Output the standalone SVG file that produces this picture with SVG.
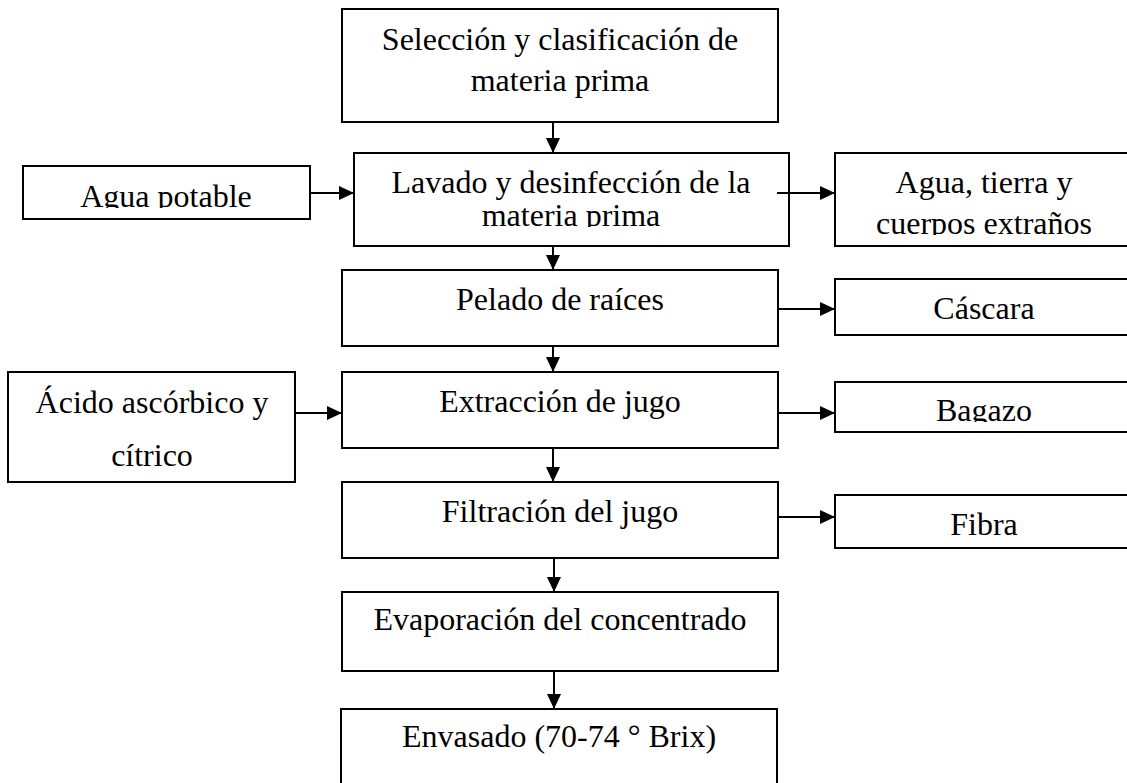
<svg xmlns="http://www.w3.org/2000/svg" width="1127" height="783" viewBox="0 0 1127 783">
<style>
.box{fill:#fff;stroke:#000;stroke-width:2}
.t{font-family:"Liberation Serif","Times New Roman",serif;font-size:32px;fill:#000;text-anchor:middle}
.c{stroke:#000;stroke-width:2;fill:none;marker-end:url(#ah)}
</style>
<defs>
<marker id="ah" markerUnits="userSpaceOnUse" markerWidth="16" markerHeight="15" refX="15" refY="7" orient="auto">
<path d="M0,0 L15,7 L0,14 z" fill="#000"/>
</marker>
<clipPath id="cLav"><rect x="354" y="153" width="435" height="74"/></clipPath>
<clipPath id="cAgua"><rect x="23" y="166" width="287" height="42"/></clipPath>
<clipPath id="cTier"><rect x="835" y="153" width="300" height="82"/></clipPath>
<clipPath id="cBag"><rect x="835" y="382" width="300" height="40"/></clipPath>
</defs>
<rect width="1127" height="783" fill="#fff"/>
<g id="n1"><rect class="box" x="342" y="9" width="436" height="113"/><text class="t" x="560" y="50">Selección y clasificación de</text><text class="t" x="560" y="91">materia prima</text></g>
<g id="n2"><rect class="box" x="354" y="153" width="435" height="93"/><g clip-path="url(#cLav)"><text class="t" x="571" y="193">Lavado y desinfección de la</text><text class="t" x="571" y="226">materia prima</text></g></g>
<g id="in1"><rect class="box" x="23" y="166" width="287" height="53"/><g clip-path="url(#cAgua)"><text class="t" x="166" y="207">Agua potable</text></g></g>
<g id="out1"><rect class="box" x="835" y="153" width="300" height="93"/><g clip-path="url(#cTier)"><text class="t" x="984" y="193">Agua, tierra y</text><text class="t" x="984" y="234">cuerpos extraños</text></g></g>
<g id="n3"><rect class="box" x="342" y="270" width="436" height="76"/><text class="t" x="560" y="310">Pelado de raíces</text></g>
<g id="out2"><rect class="box" x="835" y="279" width="300" height="56"/><text class="t" x="984" y="319">Cáscara</text></g>
<g id="in2"><rect class="box" x="8" y="372" width="287" height="110"/><text class="t" x="152" y="413">Ácido ascórbico y</text><text class="t" x="152" y="466">cítrico</text></g>
<g id="n4"><rect class="box" x="342" y="372" width="436" height="76"/><text class="t" x="560" y="412">Extracción de jugo</text></g>
<g id="out3"><rect class="box" x="835" y="382" width="300" height="50"/><g clip-path="url(#cBag)"><text class="t" x="984" y="421">Bagazo</text></g></g>
<g id="n5"><rect class="box" x="342" y="482" width="436" height="76"/><text class="t" x="560" y="522">Filtración del jugo</text></g>
<g id="out4"><rect class="box" x="835" y="495" width="300" height="53"/><text class="t" x="984" y="535">Fibra</text></g>
<g id="n6"><rect class="box" x="342" y="592" width="436" height="79"/><text class="t" x="560" y="630">Evaporación del concentrado</text></g>
<g id="n7"><rect class="box" x="341" y="709" width="436" height="100"/><text class="t" x="559" y="747">Envasado (70-74 ° Brix)</text></g>
<g id="connectors">
<path class="c" d="M553,122 V153"/>
<path class="c" d="M553,246 V270"/>
<path class="c" d="M553,346 V372"/>
<path class="c" d="M553,448 V482"/>
<path class="c" d="M554,558 V592"/>
<path class="c" d="M554,671 V709"/>
<path class="c" d="M310,193 H354"/>
<path class="c" d="M777,193 H835"/>
<path class="c" d="M778,309 H835"/>
<path class="c" d="M295,413 H342"/>
<path class="c" d="M778,413 H835"/>
<path class="c" d="M778,517 H835"/>
</g>
</svg>
